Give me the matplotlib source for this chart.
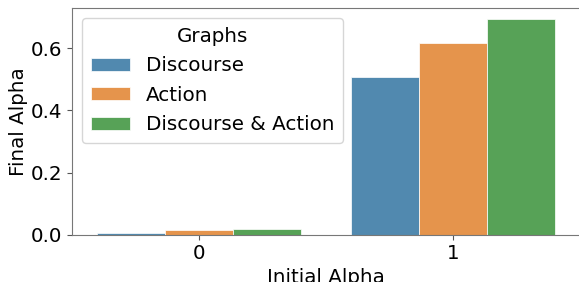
import matplotlib
matplotlib.use("Agg")
import matplotlib.pyplot as plt
import seaborn as sns
import pandas as pd

initial_alpha = [0, 1]
graphs = ["Discourse", "Action", "Discourse & Action"]
final_discourse = [0.0065, 0.506]
final_action = [0.014, 0.617]
final_both = [0.017, 0.694]

rows = []
for i, a in enumerate(initial_alpha):
    rows.append((a, graphs[0], final_discourse[i]))
    rows.append((a, graphs[1], final_action[i]))
    rows.append((a, graphs[2], final_both[i]))
df = pd.DataFrame(rows, columns=["Initial Alpha", "Graphs", "Final Alpha"])

plt.rcParams["font.family"] = ["DejaVu Sans"]
fs = 14.3
fig = plt.figure(figsize=(5.79, 2.82), dpi=100)
ax = fig.add_axes([72 / 579, 1 - 234.7 / 282, 508 / 579, 226.7 / 282])

sns.barplot(data=df, x="Initial Alpha", y="Final Alpha", hue="Graphs",
            ax=ax, alpha=0.85, edgecolor="white", linewidth=0.6)

ax.set_xlim(-0.5, 1.5)
ax.set_ylim(0, 0.729)
ax.set_yticks([0.0, 0.2, 0.4, 0.6])
ax.tick_params(labelsize=fs, color="#555555")
ax.set_xlabel("Initial Alpha", fontsize=fs, labelpad=3)
ax.set_ylabel("Final Alpha", fontsize=fs, labelpad=2)
for s in ax.spines.values():
    s.set_color("#777777")

leg = ax.legend(title="Graphs", fontsize=fs, title_fontsize=fs,
                loc="upper left", bbox_to_anchor=(0.0203, 0.9546),
                borderaxespad=0, handlelength=2.0, handleheight=0.65,
                labelspacing=0.53, borderpad=0.42)

fig.savefig("out.png", dpi=100)
